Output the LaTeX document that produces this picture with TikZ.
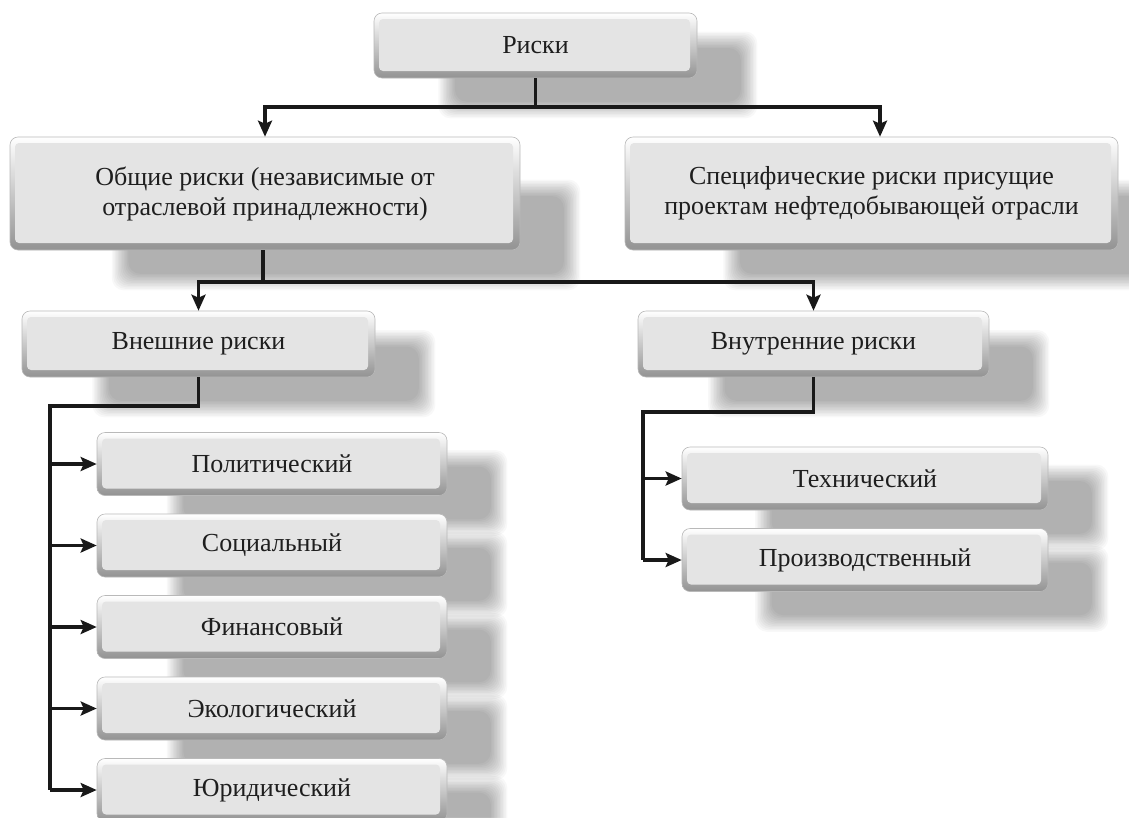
\documentclass[tikz,border=0pt]{standalone}
\usepackage{fontspec}
\setmainfont{Liberation Serif}
\usetikzlibrary{arrows.meta,calc}
\pgfdeclarelayer{bg}
\pgfdeclarelayer{paper}
\pgfsetlayers{paper,bg,main}
\definecolor{boxin}{HTML}{E4E4E4}
\definecolor{txt}{HTML}{1E1E1E}
\tikzset{
  bx/.style={rectangle, rounded corners=8pt, inner sep=0pt, align=center,
    top color=white, bottom color=gray!85, draw=gray!55, line width=0.6pt,
    text=txt, font=\fontsize{26}{30}\selectfont,
    path picture={\fill[boxin, rounded corners=4pt]
      ($(path picture bounding box.south west)+(5pt,7pt)$) rectangle
      ($(path picture bounding box.north east)+(-7pt,-6pt)$);}},
  shd/.style={fill=black, opacity=0.026, rounded corners=12pt},
  conn/.style={line width=3.2pt, draw=black!90},
  arr/.style={conn, -{Stealth[length=16pt,width=14pt,inset=3pt]}}
}
\newcommand\shadowbox[1]{%
  \foreach \i in {0,...,11}{%
    \fill[shd] ($(#1.west)!0.2!(#1.east)+(\i*1.5,\i*1.5-14)$) rectangle
      ($(#1.south east)+(60-\i*1.5,40-\i*1.5)$);}}
\begin{document}
\begin{tikzpicture}[x=1pt,y=-1pt]
\useasboundingbox (0,0) rectangle (1129,817);
\begin{pgfonlayer}{paper}
\fill[white] (0,0) rectangle (1129,817);
\end{pgfonlayer}
% nodes
\node[bx, minimum width=323pt, minimum height=65pt] (root) at (535.5,45.5) {Риски};
\node[bx, minimum width=510pt, minimum height=113pt] (gen) at (265,193.5) {Общие риски (независимые от\\отраслевой принадлежности)};
\node[bx, minimum width=493pt, minimum height=113pt] (spec) at (871.5,193.5) {Специфические риски присущие\\проектам нефтедобывающей отрасли};
\node[bx, minimum width=353pt, minimum height=66pt] (ext) at (198.5,344) {Внешние риски};
\node[bx, minimum width=351pt, minimum height=66pt] (int) at (813.5,344) {Внутренние риски};
\node[bx, minimum width=350pt, minimum height=63pt] (pol) at (272,464) {Политический};
\node[bx, minimum width=350pt, minimum height=63pt] (soc) at (272,545.5) {Социальный};
\node[bx, minimum width=350pt, minimum height=63pt] (fin) at (272,627) {Финансовый};
\node[bx, minimum width=350pt, minimum height=63pt] (eco) at (272,708.5) {Экологический};
\node[bx, minimum width=350pt, minimum height=63pt] (jur) at (272,790) {Юридический};
\node[bx, minimum width=366pt, minimum height=63pt] (tech) at (865,478.5) {Технический};
\node[bx, minimum width=366pt, minimum height=63pt] (prod) at (865,560) {Производственный};
% shadows
\begin{pgfonlayer}{bg}
\foreach \n in {root,gen,spec,ext,int,pol,soc,fin,eco,jur,tech,prod}{\shadowbox{\n}}
\end{pgfonlayer}
% connectors
\coordinate (r1) at (root.south |- 0,107);
\draw[conn] (root.south) -- (r1);
\draw[arr] (r1) -| (gen.north);
\draw[arr] (r1) -| ($(spec.north)+(8.5,0)$);
\coordinate (g1) at (263,282);
\draw[conn] (g1 |- gen.south) -- (g1);
\draw[arr] (g1) -| (ext.north);
\draw[arr] (g1) -| (int.north);
\coordinate (e1) at (50,406);
\draw[conn] (ext.south) |- (e1) -- (e1 |- jur.west);
\foreach \n in {pol,soc,fin,eco,jur}{\draw[arr] (e1 |- \n.west) -- (\n.west);}
\coordinate (i1) at (643,412);
\draw[conn] (int.south) |- (i1) -- (i1 |- prod.west);
\foreach \n in {tech,prod}{\draw[arr] (i1 |- \n.west) -- (\n.west);}
\end{tikzpicture}
\end{document}
